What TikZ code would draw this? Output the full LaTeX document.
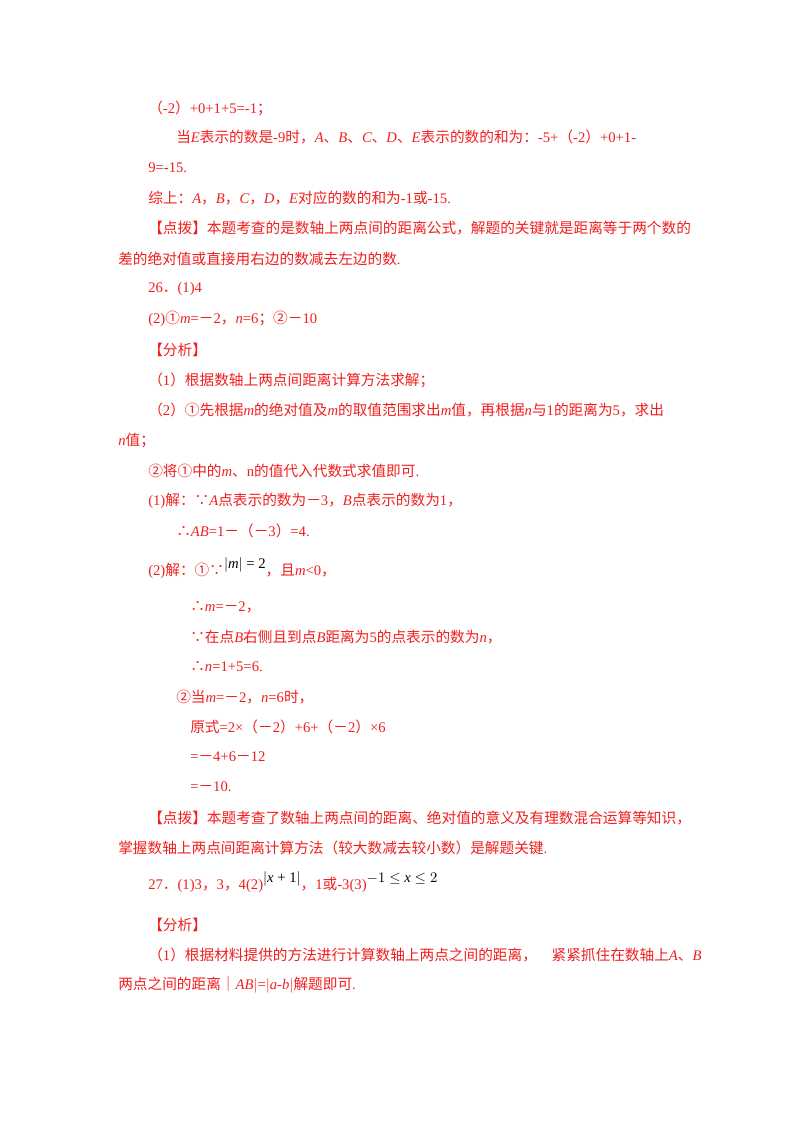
\documentclass[tikz,border=0pt]{standalone}
\usepackage{fontspec}
\setmainfont{Liberation Serif}
\newfontfamily\cjk{Noto Sans CJK SC}
\newcommand\vi[1]{{\rmfamily\itshape #1}}
\newcommand\la[1]{{\rmfamily #1}}
\definecolor{tred}{RGB}{240,30,30}
\begin{document}
\begin{tikzpicture}[x=0.75pt,y=-0.75pt,
  ln/.style={anchor=west,inner sep=0pt,text=tred,font=\cjk\fontsize{11}{13}\selectfont}]
\useasboundingbox (0,0) rectangle (800,1132);
\node[ln] (l1) at (148,108) {（\la{-2}）\la{+0+1+5=-1}；};
\node[ln] (l2) at (176,137) {当\vi{E}表示的数是\la{-9}时，\vi{A}、\vi{B}、\vi{C}、\vi{D}、\vi{E}表示的数的和为：\la{-5+}（\la{-2}）\la{+0+1-}};
\node[ln] (l3) at (148,168) {\la{9=-15.}};
\node[ln] (l4) at (148,198) {综上：\vi{A}，\vi{B}，\vi{C}，\vi{D}，\vi{E}对应的数的和为\la{-1}或\la{-15.}};
\node[ln] (l5) at (148,228) {【点拨】本题考查的是数轴上两点间的距离公式，解题的关键就是距离等于两个数的};
\node[ln] (l6) at (118,259) {差的绝对值或直接用右边的数减去左边的数\la{.}};
\node[ln] (l7) at (148,289) {\la{26}．\la{(1)4}};
\node[ln] (l8) at (148,319) {\la{(2)}①\vi{m}\la{=}－\la{2}，\vi{n}\la{=6}；②－\la{10}};
\node[ln] (l9) at (148,350) {【分析】};
\node[ln] (l10) at (148,380) {（\la{1}）根据数轴上两点间距离计算方法求解；};
\node[ln] (l11) at (148,410) {（\la{2}）①先根据\vi{m}的绝对值及\vi{m}的取值范围求出\vi{m}值，再根据\vi{n}与\la{1}的距离为\la{5}，求出};
\node[ln] (l12) at (118,441) {\vi{n}值；};
\node[ln] (l13) at (148,471) {②将①中的\vi{m}、\la{n}的值代入代数式求值即可\la{.}};
\node[ln] (l14) at (148,501) {\la{(1)}解：∵\vi{A}点表示的数为－\la{3}，\vi{B}点表示的数为\la{1}，};
\node[ln] (l15) at (176,531) {∴\vi{AB}\la{=1}－（－\la{3}）\la{=4.}};
\node[ln] (l16) at (148,568) {\la{(2)}解：①∵\raisebox{5pt}{\textcolor{black}{\la{$|$\vi{m}$|$ = 2}}}，且\vi{m}\la{<0}，};
\node[ln] (l17) at (190,607) {∴\vi{m}\la{=}－\la{2}，};
\node[ln] (l18) at (190,637) {∵在点\vi{B}右侧且到点\vi{B}距离为\la{5}的点表示的数为\vi{n}，};
\node[ln] (l19) at (190,667) {∴\vi{n}\la{=1+5=6.}};
\node[ln] (l20) at (176,697) {②当\vi{m}\la{=}－\la{2}，\vi{n}\la{=6}时，};
\node[ln] (l21) at (190,727) {原式\la{=2×}（－\la{2}）\la{+6+}（－\la{2}）\la{×6}};
\node[ln] (l22) at (190,757) {\la{=}－\la{4+6}－\la{12}};
\node[ln] (l23) at (190,787) {\la{=}－\la{10.}};
\node[ln] (l24) at (148,818) {【点拨】本题考查了数轴上两点间的距离、绝对值的意义及有理数混合运算等知识，};
\node[ln] (l25) at (118,848) {掌握数轴上两点间距离计算方法（较大数减去较小数）是解题关键\la{.}};
\node[ln] (l26) at (148,882) {\la{27}．\la{(1)3}，\la{3}，\la{4(2)}\raisebox{5pt}{\textcolor{black}{\la{$|$\vi{x} + 1$|$}}}，\la{1}或\la{-3(3)}\raisebox{5pt}{\textcolor{black}{\la{$-1\le$ \vi{x} $\le 2$}}}};
\node[ln] (l27) at (148,925) {【分析】};
\node[ln] (l28) at (148,955) {（\la{1}）根据材料提供的方法进行计算数轴上两点之间的距离，\quad 紧紧抓住在数轴上\vi{A}、\vi{B}};
\node[ln] (l29) at (118,985) {两点之间的距离｜\vi{AB}\la{$|$=$|$}\vi{a-b}\la{$|$}解题即可\la{.}};
\end{tikzpicture}
\end{document}
